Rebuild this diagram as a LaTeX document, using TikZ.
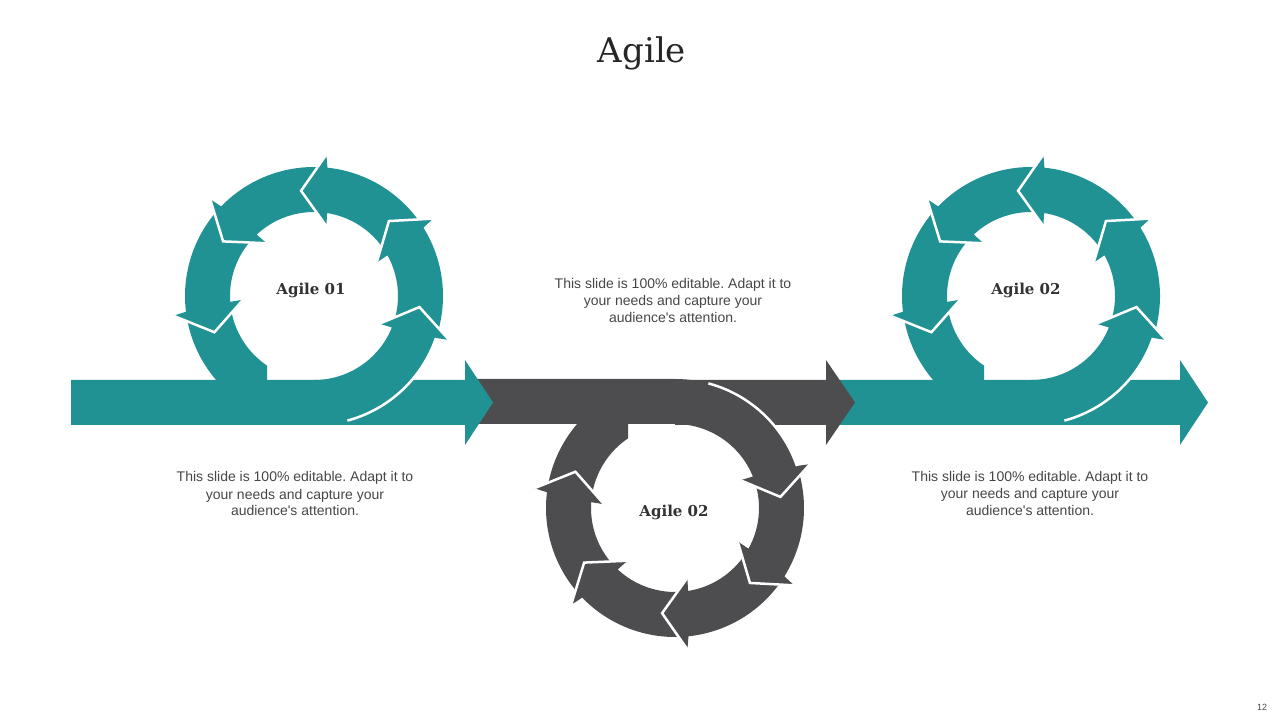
\documentclass[tikz,border=0pt]{standalone}
\usepackage{fontspec}
\setmainfont{DejaVu Serif}
\newfontfamily\bodyfont{Liberation Sans}
\definecolor{agileteal}{RGB}{32,146,148}
\definecolor{agilegrey}{RGB}{77,77,79}
\definecolor{bodygrey}{RGB}{70,70,70}
\frenchspacing

% one ring segment: tail angle, head angle
\newcommand{\agileseg}[2]{(#1:129) arc[start angle=#1, end angle=#2-1, radius=129pt] -- (#2:142) -- (#2+12:106) -- (#2-5:71) -- (#2-4:84) arc[start angle=#2-4, end angle=#1, radius=84pt] -- cycle}
% white edge of a head
\newcommand{\agilenotch}[1]{(#1:142) -- (#1+12:106) -- (#1-5:71)}
% straight arrow: colour, start, head base, tip
\newcommand{\agilebar}[4]{\fill[#1] (#2,295) -- (#3,295) -- (#3,275) -- (#4,317.5) -- (#3,360) -- (#3,340) -- (#2,340) -- cycle;}
% loop round the centre: colour, left end of the bar
\newcommand{\agileloop}[2]{%
  \fill[#1] (188:129) arc[start angle=188, end angle=220.6, radius=129pt] -- (-47,-84) -- (236:84) arc[start angle=236, end angle=188, radius=84pt] -- cycle;
  \fill[#1] \agileseg{137}{188} \agileseg{85}{137} \agileseg{33}{85} \agileseg{-18}{33};
  \fill[#1] (#2,-129) -- (0,-129) arc[start angle=-90, end angle=-19, radius=129pt] -- \agilenotch{-18} -- (-22:84) arc[start angle=-22, end angle=-90, radius=84pt] -- (#2,-84) -- cycle;
  \draw[notch] (-75:129) arc[start angle=-75, end angle=-19, radius=129pt];
  \draw[notch] \agilenotch{-18} \agilenotch{33} \agilenotch{85} \agilenotch{137} \agilenotch{188};
}

\begin{document}
\begin{tikzpicture}[x=1pt,y=1pt,
  notch/.style={draw=white, line width=2.5pt},
  title/.style={font=\fontsize{34}{40}\selectfont, text={rgb,255:red,38;green,38;blue,38}},
  looplabel/.style={font=\bfseries\fontsize{15}{18}\selectfont, text={rgb,255:red,50;green,50;blue,50}},
  bodytext/.style={font=\bodyfont\fontsize{14}{17}\selectfont, text=bodygrey, align=center, inner sep=0pt},
  pagenum/.style={font=\bodyfont\fontsize{9}{10}\selectfont, text=bodygrey}]
\useasboundingbox (0,0) rectangle (1280,720);

% right loop
\agilebar{agileteal}{1031}{1180}{1208}
\begin{scope}[shift={(1031,424)}]
\agileloop{agileteal}{-196}
\end{scope}

% middle loop
\agilebar{agilegrey}{675}{826}{855}
\begin{scope}[shift={(675,212)},yscale=-1]
\agileloop{agilegrey}{-205}
\end{scope}

% left loop
\agilebar{agileteal}{314}{465}{493}
\begin{scope}[shift={(314,424)}]
\agileloop{agileteal}{-243}
\end{scope}

\node[title](title) at (642,667){Agile};
\node[looplabel](lab1) at (311,430){Agile 01};
\node[looplabel](lab2) at (674,208){Agile 02};
\node[looplabel](lab3) at (1026,430){Agile 02};
\node[bodytext](txt1) at (295,226){This slide is 100\% editable. Adapt it to\\your needs and capture your\\audience\textquotesingle s attention.};
\node[bodytext](txt2) at (673,419){This slide is 100\% editable. Adapt it to\\your needs and capture your\\audience\textquotesingle s attention.};
\node[bodytext](txt3) at (1030,227){This slide is 100\% editable. Adapt it to\\your needs and capture your\\audience\textquotesingle s attention.};
\node[pagenum](page) at (1262,13){12};
\end{tikzpicture}
\end{document}
